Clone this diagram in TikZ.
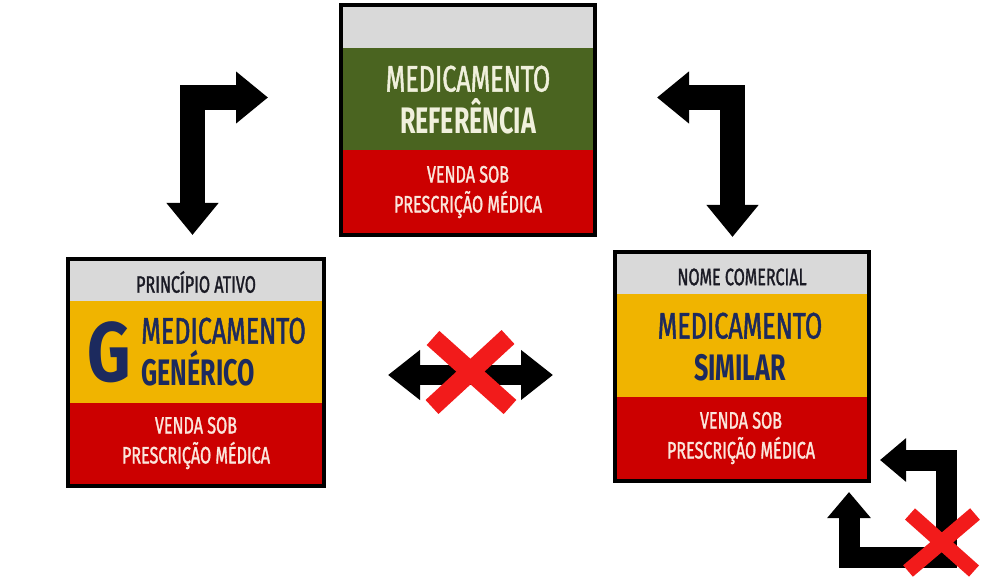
\documentclass[tikz,border=0pt]{standalone}
\usepackage{fontspec}
\usepackage{tikz}
\usetikzlibrary{arrows.meta}

\newfontfamily\condfont[FakeStretch=0.68,FakeBold=1.3]{Fira Sans}
\newfontfamily\condbold[FakeStretch=0.68]{Fira Sans}
\newfontfamily\letterfont[FakeStretch=0.8]{Fira Sans}

\definecolor{bandgray}{HTML}{D9D9D9}
\definecolor{refgreen}{HTML}{4A6420}
\definecolor{rxred}{HTML}{CC0000}
\definecolor{genyellow}{HTML}{F0B400}
\definecolor{navytext}{HTML}{1C2A5E}
\definecolor{darktext}{HTML}{1A1A24}
\definecolor{creamtext}{HTML}{F0F0DC}
\definecolor{pinktext}{HTML}{FBE6DC}
\definecolor{crossred}{HTML}{F21B1B}

\begin{document}
\begin{tikzpicture}[x=0.02cm,y=-0.02cm,
    frame/.style={line width=4*0.02cm,black},
    bigtext/.style={font=\condfont\fontsize{21}{24}\selectfont,align=center,inner sep=0pt},
    smalltext/.style={font=\condfont\fontsize{13.5}{17}\selectfont,align=center,inner sep=0pt},
    bigarrow/.style={line width=25*0.02cm,black,
        {Triangle[width=50*0.02cm,length=32*0.02cm]}-{Triangle[width=50*0.02cm,length=32*0.02cm]}},
    smallarrow/.style={line width=21*0.02cm,black,
        {Triangle[width=42*0.02cm,length=26*0.02cm]}-{Triangle[width=42*0.02cm,length=26*0.02cm]}},
    cross/.style={crossred,line width=#1*0.02cm}]

    \useasboundingbox (0,0) rectangle (1003,587);

    % Medicamento referencia (top)
    \fill[bandgray] (343,7) rectangle (593,48);
    \fill[refgreen] (343,48) rectangle (593,150);
    \fill[rxred] (343,150) rectangle (593,233);
    \draw[frame] (341,5) rectangle (595,235);
    \node[bigtext,text=creamtext] (refname) at (468,100) {MEDICAMENTO\\\condbold\bfseries REFERÊNCIA};
    \node[smalltext,text=pinktext] (refsale) at (468,192) {VENDA SOB\\PRESCRIÇÃO MÉDICA};

    % Medicamento generico (left)
    \fill[bandgray] (70,261) rectangle (322,301);
    \fill[genyellow] (70,301) rectangle (322,403);
    \fill[rxred] (70,403) rectangle (322,484);
    \draw[frame] (68,259) rectangle (324,486);
    \node[smalltext,text=darktext] (genlabel) at (196,282) {PRINCÍPIO ATIVO};
    \node[font=\letterfont\bfseries\fontsize{48}{48}\selectfont,text=navytext,inner sep=0pt] (genletter) at (109,352) {G};
    \node[bigtext,text=navytext,align=left,anchor=west] (genname) at (141,352) {MEDICAMENTO\\\condbold\bfseries GENÉRICO};
    \node[smalltext,text=pinktext] (gensale) at (196,443) {VENDA SOB\\PRESCRIÇÃO MÉDICA};

    % Medicamento similar (right)
    \fill[bandgray] (617,254) rectangle (867,294);
    \fill[genyellow] (617,294) rectangle (867,397);
    \fill[rxred] (617,397) rectangle (867,479);
    \draw[frame] (615,252) rectangle (869,481);
    \node[smalltext,text=darktext] (simlabel) at (742,277) {NOME COMERCIAL};
    \node[bigtext,text=navytext] (simname) at (740,347) {MEDICAMENTO\\\condbold\bfseries SIMILAR};
    \node[smalltext,text=pinktext] (simsale) at (741,438) {VENDA SOB\\PRESCRIÇÃO MÉDICA};

    % Arrow ends
    \coordinate (genin) at (192.5,235);
    \coordinate (refleft) at (268,97.5);
    \coordinate (refright) at (657,97.5);
    \coordinate (simin) at (732.5,237);
    \coordinate (midleft) at (388,375);
    \coordinate (midright) at (553,375);
    \coordinate (loopside) at (880,460);
    \coordinate (loopbottom) at (849,492);

    % Draw the arrows
    \draw[bigarrow] (genin) |- (refleft);
    \draw[bigarrow] (refright) -| (simin);
    \draw[line width=20*0.02cm,black,
        {Triangle[width=48*0.02cm,length=32*0.02cm]}-{Triangle[width=48*0.02cm,length=32*0.02cm]}] (midleft) -- (midright);
    \draw[smallarrow] (loopside) -- (946,460) -- (946,557) -- (849,557) -- (loopbottom);

    % Draw the crosses
    \draw[cross=19] (433,338) -- (510,407);
    \draw[cross=19] (508,337) -- (432,407);
    \draw[cross=15] (910,514) -- (974,571);
    \draw[cross=15] (975,514) -- (908,571);

\end{tikzpicture}
\end{document}
